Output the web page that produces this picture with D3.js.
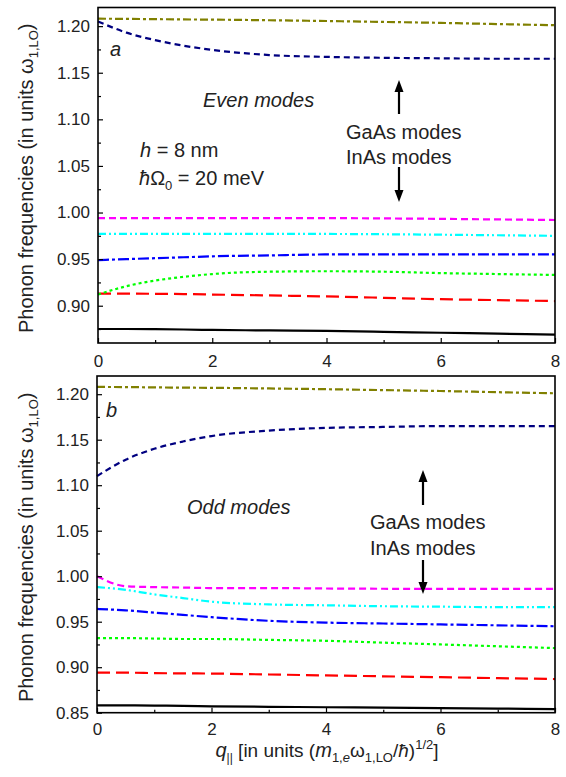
<!DOCTYPE html>
<html><head><meta charset="utf-8">
<script src="https://cdn.jsdelivr.net/npm/d3@7"></script>
<style>body{margin:0;background:#fff}svg{display:block;font-family:"Liberation Sans",Arial,sans-serif}</style>
</head><body><svg id="c" width="566" height="777"></svg>
<script>
const q = [0, 0.5, 1, 1.5, 2, 3, 4, 5, 6, 7, 8];
const xTicks = [0, 2, 4, 6, 8];
const yTicksTop = [0.90, 0.95, 1.00, 1.05, 1.10, 1.15, 1.20];
const yTicksBottom = [0.85, 0.90, 0.95, 1.00, 1.05, 1.10, 1.15, 1.20];

// Even modes (panel a)
const evenOlive   = [1.208, 1.2078, 1.2075, 1.2072, 1.207, 1.2063, 1.2055, 1.2045, 1.2035, 1.2022, 1.201];
const evenNavy    = [1.205, 1.193, 1.185, 1.179, 1.1745, 1.169, 1.167, 1.166, 1.1655, 1.165, 1.165];
const evenMagenta = [0.994, 0.994, 0.994, 0.994, 0.994, 0.994, 0.994, 0.9937, 0.9932, 0.9926, 0.992];
const evenCyan    = [0.977, 0.977, 0.977, 0.977, 0.977, 0.977, 0.977, 0.9767, 0.9762, 0.9756, 0.975];
const evenBlue    = [0.949, 0.950, 0.951, 0.952, 0.953, 0.954, 0.955, 0.955, 0.955, 0.955, 0.955];
const evenGreen   = [0.912, 0.921, 0.927, 0.931, 0.934, 0.9365, 0.937, 0.9365, 0.935, 0.934, 0.933];
const evenRed     = [0.913, 0.913, 0.9128, 0.9125, 0.912, 0.911, 0.910, 0.9085, 0.907, 0.906, 0.905];
const evenBlack   = [0.875, 0.875, 0.8748, 0.8745, 0.874, 0.8735, 0.873, 0.872, 0.871, 0.870, 0.869];

// Odd modes (panel b)
const oddOlive   = [1.208, 1.2078, 1.2075, 1.2072, 1.207, 1.2063, 1.2055, 1.2045, 1.2035, 1.2022, 1.201];
const oddNavy    = [1.110, 1.128, 1.140, 1.148, 1.154, 1.160, 1.163, 1.164, 1.165, 1.165, 1.165];
const oddMagenta = [1.000, 0.989, 0.988, 0.9875, 0.987, 0.987, 0.9865, 0.9862, 0.986, 0.986, 0.986];
const oddCyan    = [0.988, 0.985, 0.980, 0.976, 0.972, 0.969, 0.968, 0.967, 0.9665, 0.966, 0.966];
const oddBlue    = [0.964, 0.9625, 0.960, 0.9575, 0.955, 0.951, 0.949, 0.948, 0.947, 0.946, 0.945];
const oddGreen   = [0.932, 0.932, 0.9315, 0.931, 0.931, 0.930, 0.929, 0.927, 0.925, 0.923, 0.921];
const oddRed     = [0.894, 0.894, 0.8935, 0.8932, 0.893, 0.892, 0.891, 0.890, 0.889, 0.888, 0.887];
const oddBlack   = [0.858, 0.858, 0.8578, 0.8575, 0.857, 0.8565, 0.856, 0.8555, 0.855, 0.8545, 0.854];

const styles = {
  olive:   {color: "#808000", dash: "8,3,3,3"},
  navy:    {color: "#000080", dash: "6,4"},
  magenta: {color: "#ff00ff", dash: "7,4"},
  cyan:    {color: "#00ffff", dash: "8,3,2,3,2,3"},
  blue:    {color: "#0000ff", dash: "11,3,3,3"},
  green:   {color: "#00ff00", dash: "3,3"},
  red:     {color: "#ff0000", dash: "13,6"},
  black:   {color: "#000000", dash: null}
};

const svg = d3.select("#c");
const TFS = 17;   // tick font size
const LFS = 20;   // label / annotation font size
const INK = "#222";

function panel(cfg) {
  const x = d3.scaleLinear().domain([0, 8]).range([cfg.left, cfg.right]);
  const y = d3.scaleLinear().domain(cfg.ydom).range([cfg.bottom, cfg.top]);
  const g = svg.append("g");

  const line = d3.line().x((d, i) => x(q[i])).y(d => y(d)).curve(d3.curveMonotoneX);
  cfg.series.forEach(([vals, key]) => {
    const s = styles[key];
    g.append("path").attr("d", line(vals)).attr("fill", "none")
      .attr("stroke", s.color).attr("stroke-width", 2.2)
      .attr("stroke-dasharray", s.dash);
  });

  const xa = g.append("g").attr("transform", `translate(0,${cfg.bottom})`)
    .call(d3.axisBottom(x).tickValues(xTicks).tickSizeInner(-5).tickSizeOuter(0).tickPadding(cfg.xpad).tickFormat(d3.format("d")));
  xa.selectAll("text").attr("font-size", TFS).attr("fill", INK).attr("font-family", "Liberation Sans, Arial, sans-serif");
  xa.select(".domain").remove();
  g.append("g").attr("transform", `translate(0,${cfg.bottom})`)
    .call(d3.axisBottom(x).tickValues([1, 3, 5, 7]).tickSizeInner(-3).tickSizeOuter(0).tickFormat(""))
    .select(".domain").remove();

  const ya = g.append("g").attr("transform", `translate(${cfg.left},0)`)
    .call(d3.axisLeft(y).tickValues(cfg.yticks).tickSizeInner(-5).tickSizeOuter(0).tickPadding(8).tickFormat(d3.format(".2f")));
  ya.selectAll("text").attr("font-size", TFS).attr("fill", INK).attr("font-family", "Liberation Sans, Arial, sans-serif");
  ya.select(".domain").remove();
  const minor = cfg.yticks.map(v => v + 0.025).filter(v => v < cfg.ydom[1]);
  if (cfg.ydom[0] < cfg.yticks[0] - 0.025) minor.push(cfg.yticks[0] - 0.025);
  g.append("g").attr("transform", `translate(${cfg.left},0)`)
    .call(d3.axisLeft(y).tickValues(minor).tickSizeInner(-3).tickSizeOuter(0).tickFormat(""))
    .select(".domain").remove();
  g.selectAll(".tick line").attr("stroke-width", 1.2);

  g.append("rect").attr("x", cfg.left).attr("y", cfg.top)
    .attr("width", cfg.right - cfg.left).attr("height", cfg.bottom - cfg.top)
    .attr("fill", "none").attr("stroke", "#000").attr("stroke-width", 1.6);

  const cy = (cfg.top + cfg.bottom) / 2 + 3;
  const t = g.append("text").attr("transform", `translate(33,${cy}) rotate(-90)`)
    .attr("text-anchor", "middle").attr("font-size", LFS).attr("fill", INK);
  t.append("tspan").text("Phonon frequencies (in units ω");
  t.append("tspan").attr("font-size", 13).attr("dy", 5).text("1,LO");
  t.append("tspan").attr("dy", -5).text(")");

  return {g, x, y};
}

function arrow(g, x, y1, y2) {
  const dir = y2 < y1 ? -1 : 1;
  g.append("line").attr("x1", x).attr("x2", x).attr("y1", y1).attr("y2", y2 - dir * 10)
    .attr("stroke", "#000").attr("stroke-width", 2.2);
  g.append("path").attr("d", `M${x - 4.5},${y2 - dir * 12} L${x + 4.5},${y2 - dir * 12} L${x},${y2} Z`).attr("fill", "#000");
}

function label(g, x, y, txt, italic) {
  return g.append("text").attr("x", x).attr("y", y).attr("font-size", LFS)
    .attr("font-style", italic ? "italic" : null).attr("fill", INK).text(txt);
}

// Panel a
const A = panel({left: 98, right: 555, top: 7.5, bottom: 343, ydom: [0.86, 1.22], yticks: yTicksTop, xpad: 12,
  series: [[evenBlack, "black"], [evenRed, "red"], [evenGreen, "green"], [evenBlue, "blue"], [evenCyan, "cyan"], [evenMagenta, "magenta"], [evenNavy, "navy"], [evenOlive, "olive"]]});
label(A.g, 110, 56, "a", true);
label(A.g, 203, 107, "Even modes", true);
{
  const t1 = A.g.append("text").attr("x", 140).attr("y", 157).attr("font-size", LFS).attr("fill", INK);
  t1.append("tspan").attr("font-style", "italic").text("h");
  t1.append("tspan").text(" = 8 nm");
  const t2 = A.g.append("text").attr("x", 139).attr("y", 185).attr("font-size", LFS).attr("fill", INK);
  t2.append("tspan").attr("font-style", "italic").text("ħ");
  t2.append("tspan").text("Ω");
  t2.append("tspan").attr("font-size", 13).attr("dy", 5).text("0");
  t2.append("tspan").attr("dy", -5).text(" = 20 meV");
}
label(A.g, 346, 139, "GaAs modes");
label(A.g, 346, 164, "InAs modes");
arrow(A.g, 399, 114, 80);
arrow(A.g, 399, 167, 202);

// Panel b
const B = panel({left: 97, right: 555, top: 376, bottom: 712.7, ydom: [0.85, 1.22], yticks: yTicksBottom, xpad: 10,
  series: [[oddBlack, "black"], [oddRed, "red"], [oddGreen, "green"], [oddBlue, "blue"], [oddCyan, "cyan"], [oddMagenta, "magenta"], [oddNavy, "navy"], [oddOlive, "olive"]]});
label(B.g, 106, 417, "b", true);
label(B.g, 187, 514, "Odd modes", true);
label(B.g, 370, 529, "GaAs modes");
label(B.g, 370, 555, "InAs modes");
arrow(B.g, 423, 505, 470);
arrow(B.g, 423, 560, 594);

// x label
{
  const t = svg.append("text").attr("x", 327).attr("y", 757).attr("text-anchor", "middle").attr("font-size", 19).attr("fill", INK);
  t.append("tspan").attr("font-style", "italic").attr("font-size", 20).text("q");
  t.append("tspan").attr("font-size", 12).attr("dy", 5).text("||");
  t.append("tspan").attr("dy", -5).text(" [in units (");
  t.append("tspan").attr("font-style", "italic").attr("font-size", 20).text("m");
  t.append("tspan").attr("font-size", 13).attr("dy", 5).text("1,");
  t.append("tspan").attr("font-size", 13).attr("font-style", "italic").text("e");
  t.append("tspan").attr("dy", -5).text("ω");
  t.append("tspan").attr("font-size", 13).attr("dy", 5).text("1,LO");
  t.append("tspan").attr("dy", -5).text("/");
  t.append("tspan").attr("font-style", "italic").text("ħ");
  t.append("tspan").text(")");
  t.append("tspan").attr("font-size", 13).attr("dy", -8).text("1/2");
  t.append("tspan").attr("dy", 8).text("]");
}
</script></body></html>
